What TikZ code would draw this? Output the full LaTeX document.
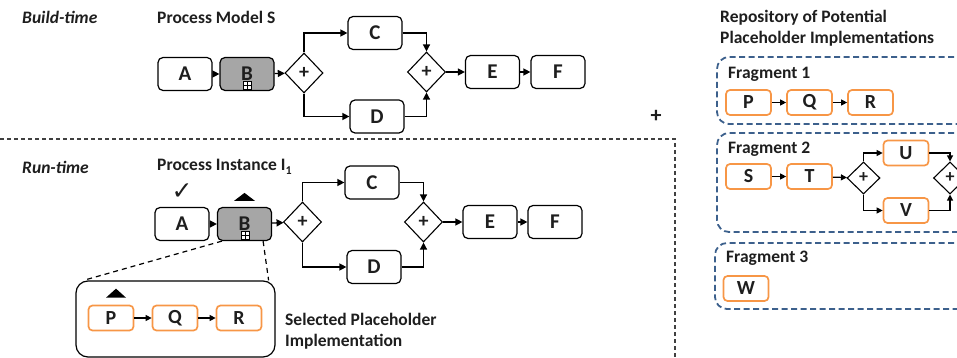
\documentclass[tikz,border=0pt]{standalone}
\usepackage{fontspec}
\setmainfont{Carlito}
\newfontfamily\symfont{DejaVu Sans}
\usetikzlibrary{arrows.meta,shapes.geometric}
\definecolor{grayfill}{RGB}{166,166,166}
\definecolor{orangeline}{RGB}{247,150,70}
\definecolor{blueline}{RGB}{60,96,140}
\definecolor{txt}{RGB}{30,30,30}
\begin{document}
\begin{tikzpicture}[x=1pt,y=-1pt,
  task/.style={draw=black, line width=1.2pt, rounded corners=5pt, minimum width=54pt, minimum height=33pt, inner sep=0pt, text=txt, font=\fontsize{21}{21}\selectfont\bfseries},
  subtask/.style={task, fill=grayfill},
  gate/.style={draw=black, line width=1.1pt, diamond, minimum width=38pt, minimum height=40pt, inner sep=0pt, text=txt, font=\fontsize{20}{20}\selectfont\bfseries},
  ftask/.style={draw=orangeline, line width=1.7pt, rounded corners=4pt, minimum width=45pt, minimum height=25pt, inner sep=0pt, text=txt, font=\fontsize{20}{20}\selectfont\bfseries},
  fgate/.style={draw=black, line width=1.1pt, diamond, minimum width=33pt, minimum height=32pt, inner sep=0pt, text=txt, font=\fontsize{18}{18}\selectfont\bfseries},
  flow/.style={line width=1.3pt, -{Triangle[length=7pt,width=7pt]}},
  sflow/.style={line width=1.2pt, -{Triangle[length=6pt,width=6pt]}},
  title/.style={anchor=west, inner sep=0pt, text=txt, font=\fontsize{17.5}{21}\selectfont\bfseries},
  ititle/.style={title, font=\fontsize{17.5}{21}\selectfont\bfseries\itshape},
  frag/.style={draw=blueline, line width=1.8pt, dash pattern=on 6pt off 3.5pt, rounded corners=12pt, inner sep=0pt},
  marker/.style={draw=black, line width=0.9pt, fill=white, minimum size=8pt, inner sep=0pt, path picture={\draw[line width=0.9pt] (path picture bounding box.north) -- (path picture bounding box.south); \draw[line width=0.9pt] (path picture bounding box.west) -- (path picture bounding box.east);}},
  sep/.style={draw=black!75, line width=1.1pt, dash pattern=on 4pt off 3pt},
  zoomline/.style={draw=black, line width=1.2pt, dash pattern=on 5pt off 4pt}
]
\useasboundingbox (0,0) rectangle (957,358);
\clip (0,0) rectangle (957,358);

% ---------- Build-time ----------
\node[ititle] (bt) at (22,17) {Build-time};
\node[title] (pms) at (157,17) {Process Model S};
\node[task] (a1) at (185,74) {A};
\node[subtask] (b1) at (247,74) {B};
\node[marker] (m1) at (247.5,85.5) {};
\node[gate] (g1) at (304,73) {+};
\node[task] (c1) at (375,33) {C};
\node[task] (d1) at (377,116.5) {D};
\node[gate] (g2) at (426.5,72) {+};
\node[task] (e1) at (492.5,72) {E};
\node[task] (f1) at (558,72) {F};
\draw[flow] (a1) -- (b1);
\draw[flow] (b1) -- (g1);
\draw[flow] (g1.north) |- (c1.west);
\draw[flow] (g1.south) |- (d1.west);
\draw[flow] (c1.east) -| (g2.north);
\draw[flow] (d1.east) -| (g2.south);
\draw[flow] (g2) -- (e1);
\draw[flow] (e1) -- (f1);

% ---------- separators ----------
\coordinate (s0) at (0,139);
\coordinate (s1) at (675,139);
\coordinate (s2) at (675,358);
\draw[sep] (s0) -- (s1) -- (s2);
\node[inner sep=0pt, text=txt, font=\fontsize{22}{22}\selectfont\bfseries] (plus) at (656,116) {+};

% ---------- Run-time ----------
\node[ititle] (rt) at (22,167) {Run-time};
\node[title] (pi) at (157,167) {Process Instance I\raisebox{-3.5pt}{\fontsize{12}{12}\selectfont 1}};
\node[task] (a2) at (182,224) {A};
\node[subtask] (b2) at (244.5,224) {B};
\node[marker] (m2) at (245,235) {};
\node[inner sep=0pt, text=txt, font=\symfont\fontsize{25}{25}\selectfont] (chk) at (182,192) {✓};
\fill[black] ([shift={(-10.5pt,6pt)}]b2.north) -- ([shift={(10.5pt,6pt)}]b2.north) -- ([shift={(0pt,14pt)}]b2.north) -- cycle;
\node[gate] (h1) at (302.5,222) {+};
\node[task] (c2) at (372,182.5) {C};
\node[task] (d2) at (374,267) {D};
\node[gate] (h2) at (423.5,222) {+};
\node[task] (e2) at (490,222) {E};
\node[task] (f2) at (555,222) {F};
\draw[flow] (a2) -- (b2);
\draw[flow] (b2) -- (h1);
\draw[flow] (h1.north) |- (c2.west);
\draw[flow] (h1.south) |- (d2.west);
\draw[flow] (c2.east) -| (h2.north);
\draw[flow] (d2.east) -| (h2.south);
\draw[flow] (h2) -- (e2);
\draw[flow] (e2) -- (f2);

% ---------- Selected placeholder ----------
\node[draw=black, line width=1.2pt, rounded corners=12pt, minimum width=199pt, minimum height=76pt, inner sep=0pt] (sel) at (175.5,319) {};
\draw[zoomline] ([xshift=5pt]b2.south west) -- ([xshift=8pt]sel.north west);
\draw[zoomline] ([xshift=-9pt]b2.south east) -- ([xshift=-7pt]sel.north east);
\node[ftask] (sp) at (111,318) {P};
\node[ftask] (sq) at (175,318) {Q};
\node[ftask] (sr) at (239,318) {R};
\fill[black] ([shift={(-5pt,7pt)}]sp.north) -- ([shift={(15pt,7pt)}]sp.north) -- ([shift={(5pt,16pt)}]sp.north) -- cycle;
\draw[sflow] (sp) -- (sq);
\draw[sflow] (sq) -- (sr);
\node[title, align=left] (selt) at (285,331.5) {Selected Placeholder\\Implementation};

% ---------- Repository ----------
\node[title, align=left] (rep) at (720,28) {Repository of Potential\\Placeholder Implementations};

\node[frag, minimum width=268pt, minimum height=67pt] (fr1) at (851,90.5) {};
\node[title] (fl1) at (728,74) {Fragment 1};
\node[ftask] (p1) at (748.5,102.5) {P};
\node[ftask] (q1) at (809.5,102.5) {Q};
\node[ftask] (r1) at (870.5,102.5) {R};
\draw[sflow] (p1) -- (q1);
\draw[sflow] (q1) -- (r1);

\node[frag, minimum width=268pt, minimum height=99pt] (fr2) at (851,182.5) {};
\node[title] (fl2) at (728,149) {Fragment 2};
\node[ftask] (s1n) at (748.5,176.5) {S};
\node[ftask] (t1n) at (809.5,176.5) {T};
\node[fgate] (k1) at (863.5,178) {+};
\node[ftask] (u1n) at (906,153) {U};
\node[ftask] (v1n) at (906,210.5) {V};
\node[fgate] (k2) at (950,178) {+};
\draw[sflow] (s1n) -- (t1n);
\draw[sflow] (t1n) -- (k1);
\draw[sflow] (k1.north) |- (u1n.west);
\draw[sflow] (k1.south) |- (v1n.west);
\draw[sflow] (u1n.east) -| (k2.north);
\draw[sflow] (v1n.east) -| (k2.south);

\node[frag, minimum width=270pt, minimum height=66pt] (fr3) at (850,276) {};
\node[title] (fl3) at (726,258) {Fragment 3};
\node[ftask] (w1n) at (746,288.5) {W};
\end{tikzpicture}
\end{document}
